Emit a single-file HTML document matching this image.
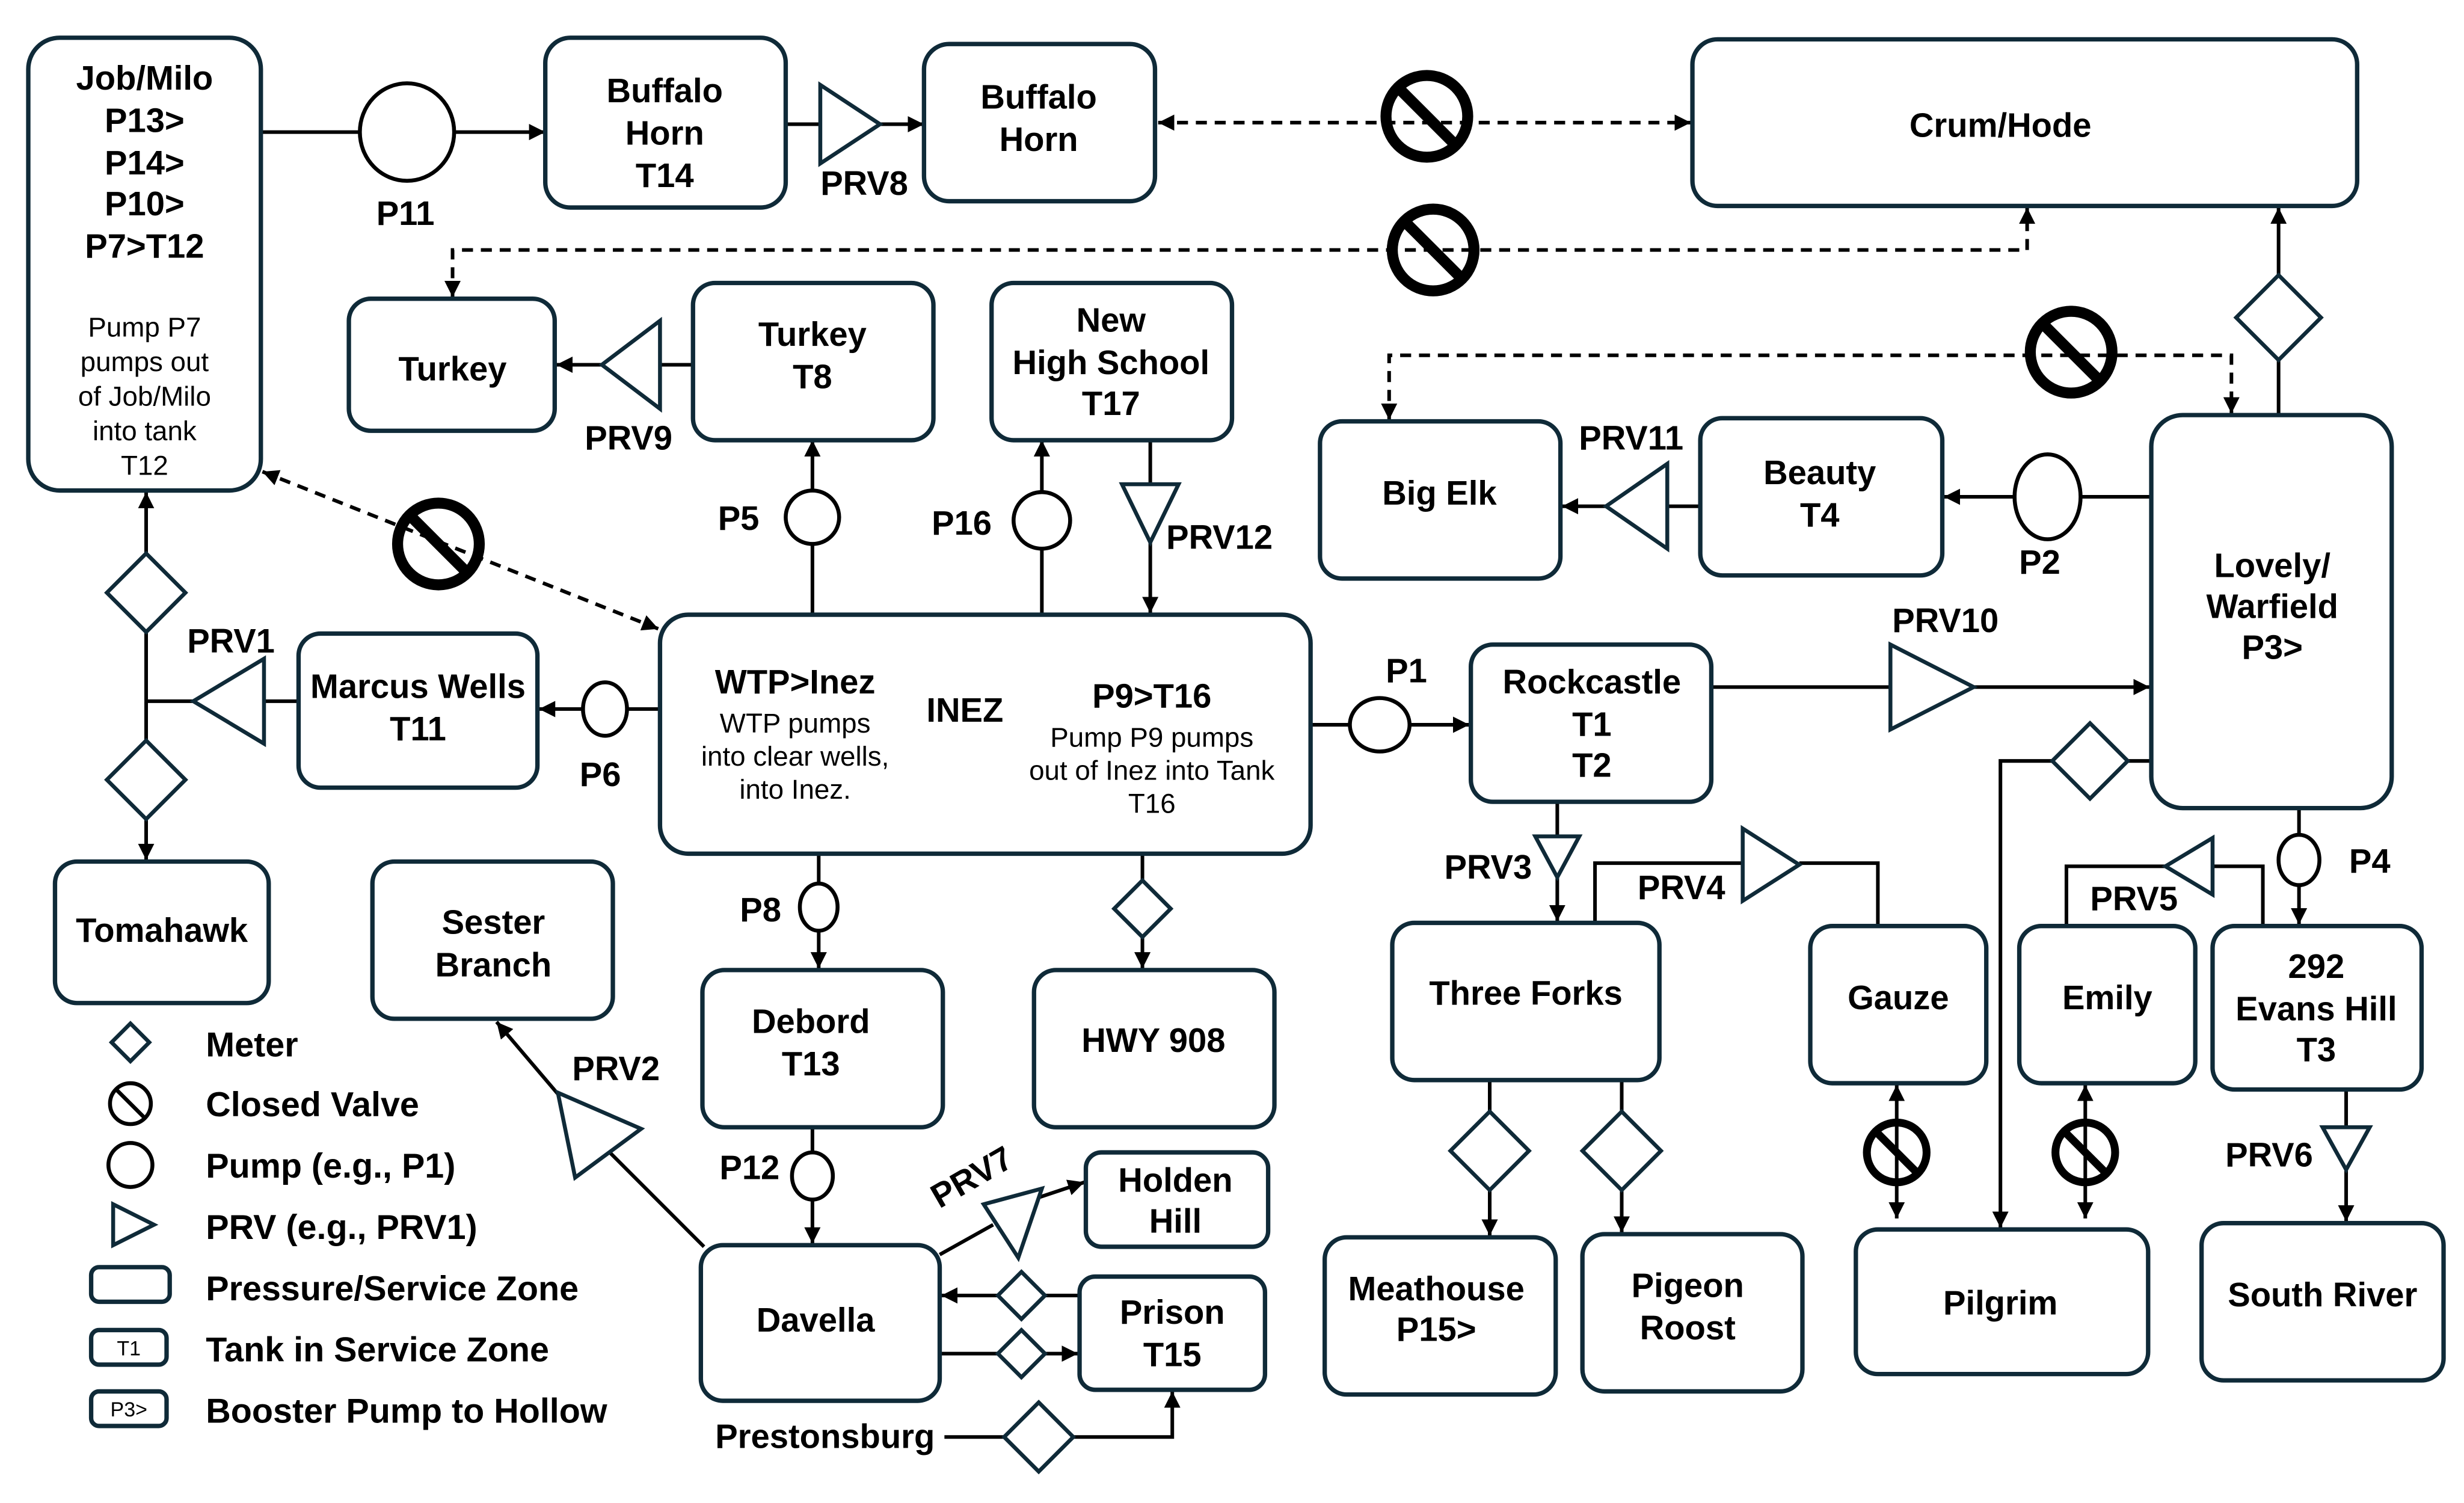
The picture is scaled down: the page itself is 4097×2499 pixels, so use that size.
<!DOCTYPE html>
<html><head><meta charset="utf-8"><style>
html,body{margin:0;padding:0;background:#fff;}
svg{display:block;}
text{font-family:"Liberation Sans",Arial,sans-serif;fill:#000;}
.b{font-weight:bold;font-size:21.5px;text-anchor:middle;}
.s{font-size:17.5px;text-anchor:middle;}
.l{font-weight:bold;font-size:22px;}
.box{fill:#fff;stroke:#0f2a38;stroke-width:2.8;}
.ln{stroke:#000;stroke-width:2.3;fill:none;}
.dl{stroke:#000;stroke-width:2.3;fill:none;stroke-dasharray:7,5;}
.tri{fill:#fff;stroke:#0f2a38;stroke-width:2.5;}
.dia{fill:#fff;stroke:#0f2a38;stroke-width:2.5;}
.pm{fill:#fff;stroke:#000;stroke-width:2.5;}
.cv{fill:none;stroke:#000;stroke-width:7;}
.cvs{fill:none;stroke:#000;stroke-width:5;}
</style></head><body>
<svg width="4097" height="2499" viewBox="0 0 1568 956" preserveAspectRatio="none" xmlns="http://www.w3.org/2000/svg">
<defs>
<marker id="a" viewBox="0 0 10 10" refX="10" refY="5" markerWidth="4.5" markerHeight="4.5" orient="auto-start-reverse" markerUnits="strokeWidth"><path d="M0,0L10,5L0,10z" fill="#000"/></marker>
</defs>
<rect width="1568" height="956" fill="#fff"/>

<g>
<line class="ln" x1="166" y1="84" x2="229" y2="84"/>
<line class="ln" x1="289" y1="84" x2="347" y2="84" marker-end="url(#a)"/>
<line class="ln" x1="500" y1="79" x2="522" y2="79"/>
<line class="ln" x1="560" y1="79" x2="588" y2="79" marker-end="url(#a)"/>
<line class="dl" x1="737" y1="78" x2="1076" y2="78" marker-start="url(#a)" marker-end="url(#a)"/>
<polyline class="dl" points="288,189 288,159 1290,159 1290,132" marker-start="url(#a)" marker-end="url(#a)"/>
<line class="ln" x1="441" y1="232" x2="420" y2="232"/>
<line class="ln" x1="383" y1="232" x2="354" y2="232" marker-end="url(#a)"/>
<line class="ln" x1="517" y1="391" x2="517" y2="346"/>
<line class="ln" x1="517" y1="312" x2="517" y2="280" marker-end="url(#a)"/>
<line class="ln" x1="663" y1="391" x2="663" y2="349"/>
<line class="ln" x1="663" y1="313" x2="663" y2="280" marker-end="url(#a)"/>
<line class="ln" x1="732" y1="280" x2="732" y2="308"/>
<line class="ln" x1="732" y1="345" x2="732" y2="390" marker-end="url(#a)"/>
<polyline class="dl" points="884,267 884,226 1420,226 1420,263" marker-start="url(#a)" marker-end="url(#a)"/>
<line class="ln" x1="1369" y1="316" x2="1324" y2="316"/>
<line class="ln" x1="1282" y1="316" x2="1237" y2="316" marker-end="url(#a)"/>
<line class="ln" x1="1082" y1="322" x2="1061" y2="322"/>
<line class="ln" x1="1022" y1="322" x2="994" y2="322" marker-end="url(#a)"/>
<line class="ln" x1="1450" y1="264" x2="1450" y2="229"/>
<line class="ln" x1="1450" y1="175" x2="1450" y2="132" marker-end="url(#a)"/>
<line class="ln" x1="834" y1="461" x2="859" y2="461"/>
<line class="ln" x1="897" y1="461" x2="935" y2="461" marker-end="url(#a)"/>
<line class="ln" x1="1089" y1="437" x2="1203" y2="437"/>
<line class="ln" x1="1256" y1="437" x2="1368" y2="437" marker-end="url(#a)"/>
<line class="dl" x1="167" y1="300" x2="419" y2="400" marker-start="url(#a)" marker-end="url(#a)"/>
<line class="ln" x1="420" y1="451" x2="399" y2="451"/>
<line class="ln" x1="371" y1="451" x2="343" y2="451" marker-end="url(#a)"/>
<line class="ln" x1="190" y1="446" x2="168" y2="446"/>
<line class="ln" x1="123" y1="446" x2="93" y2="446"/>
<line class="ln" x1="93" y1="446" x2="93" y2="402"/>
<line class="ln" x1="93" y1="352" x2="93" y2="313" marker-end="url(#a)"/>
<line class="ln" x1="93" y1="446" x2="93" y2="471"/>
<line class="ln" x1="93" y1="521" x2="93" y2="547" marker-end="url(#a)"/>
<line class="ln" x1="521" y1="543" x2="521" y2="562"/>
<line class="ln" x1="521" y1="592" x2="521" y2="616" marker-end="url(#a)"/>
<line class="ln" x1="727" y1="543" x2="727" y2="560"/>
<line class="ln" x1="727" y1="596" x2="727" y2="616" marker-end="url(#a)"/>
<line class="ln" x1="517" y1="717" x2="517" y2="733"/>
<line class="ln" x1="517" y1="763" x2="517" y2="791" marker-end="url(#a)"/>
<line class="ln" x1="448" y1="793" x2="388" y2="733"/>
<line class="ln" x1="356" y1="697" x2="316" y2="650" marker-end="url(#a)"/>
<line class="ln" x1="598" y1="798" x2="632" y2="779"/>
<line class="ln" x1="660" y1="762" x2="690" y2="752" marker-end="url(#a)"/>
<line class="ln" x1="687" y1="824" x2="665" y2="824"/>
<line class="ln" x1="635" y1="824" x2="599" y2="824" marker-end="url(#a)"/>
<line class="ln" x1="598" y1="861" x2="635" y2="861"/>
<line class="ln" x1="665" y1="861" x2="686" y2="861" marker-end="url(#a)"/>
<line class="ln" x1="601" y1="914" x2="639" y2="914"/>
<polyline class="ln" points="683,914 746,914 746,885" marker-end="url(#a)"/>
<line class="ln" x1="991" y1="510" x2="991" y2="532"/>
<line class="ln" x1="991" y1="558" x2="991" y2="586" marker-end="url(#a)"/>
<polyline class="ln" points="1015,587 1015,549 1109,549"/>
<polyline class="ln" points="1145,549 1195,549 1195,589"/>
<line class="ln" x1="948" y1="687" x2="948" y2="707"/>
<line class="ln" x1="948" y1="757" x2="948" y2="786" marker-end="url(#a)"/>
<line class="ln" x1="1032" y1="687" x2="1032" y2="707"/>
<line class="ln" x1="1032" y1="757" x2="1032" y2="784" marker-end="url(#a)"/>
<line class="ln" x1="1207" y1="690" x2="1207" y2="775" marker-start="url(#a)" marker-end="url(#a)"/>
<line class="ln" x1="1327" y1="690" x2="1327" y2="775" marker-start="url(#a)" marker-end="url(#a)"/>
<line class="ln" x1="1369" y1="484" x2="1354" y2="484"/>
<polyline class="ln" points="1306,484 1273,484 1273,781" marker-end="url(#a)"/>
<line class="ln" x1="1463" y1="514" x2="1463" y2="531"/>
<line class="ln" x1="1463" y1="563" x2="1463" y2="588" marker-end="url(#a)"/>
<polyline class="ln" points="1440,589 1440,551 1408,551"/>
<polyline class="ln" points="1378,551 1315,551 1315,589"/>
<line class="ln" x1="1493" y1="693" x2="1493" y2="717"/>
<line class="ln" x1="1493" y1="744" x2="1493" y2="777" marker-end="url(#a)"/>
</g>

<rect class="box" x="18" y="24" width="148" height="288" rx="20"/>
<rect class="box" x="347" y="24" width="153" height="108" rx="16"/>
<rect class="box" x="588" y="28" width="147" height="100" rx="16"/>
<rect class="box" x="1077" y="25" width="423" height="106" rx="16"/>
<rect class="box" x="222" y="190" width="131" height="84" rx="14"/>
<rect class="box" x="441" y="180" width="153" height="100" rx="14"/>
<rect class="box" x="631" y="180" width="153" height="100" rx="14"/>
<rect class="box" x="840" y="268" width="153" height="100" rx="14"/>
<rect class="box" x="1082" y="266" width="154" height="100" rx="14"/>
<rect class="box" x="1369" y="264" width="153" height="250" rx="20"/>
<rect class="box" x="190" y="403" width="152" height="98" rx="14"/>
<rect class="box" x="420" y="391" width="414" height="152" rx="18"/>
<rect class="box" x="936" y="410" width="153" height="100" rx="14"/>
<rect class="box" x="35" y="548" width="136" height="90" rx="14"/>
<rect class="box" x="237" y="548" width="153" height="100" rx="14"/>
<rect class="box" x="447" y="617" width="153" height="100" rx="14"/>
<rect class="box" x="658" y="617" width="153" height="100" rx="14"/>
<rect class="box" x="886" y="587" width="170" height="100" rx="14"/>
<rect class="box" x="1152" y="589" width="112" height="100" rx="14"/>
<rect class="box" x="1285" y="589" width="112" height="100" rx="14"/>
<rect class="box" x="1408" y="589" width="133" height="104" rx="14"/>
<rect class="box" x="691" y="733" width="116" height="60" rx="10"/>
<rect class="box" x="687" y="812" width="118" height="72" rx="10"/>
<rect class="box" x="446" y="792" width="152" height="99" rx="14"/>
<rect class="box" x="843" y="787" width="147" height="100" rx="14"/>
<rect class="box" x="1007" y="785" width="140" height="100" rx="14"/>
<rect class="box" x="1181" y="782" width="186" height="92" rx="14"/>
<rect class="box" x="1401" y="778" width="154" height="100" rx="14"/>

<text class="b" x="92" y="57">Job/Milo</text>
<text class="b" x="92" y="84">P13&gt;</text>
<text class="b" x="92" y="111">P14&gt;</text>
<text class="b" x="92" y="137">P10&gt;</text>
<text class="b" x="92" y="164">P7&gt;T12</text>
<text class="s" x="92" y="214">Pump P7</text>
<text class="s" x="92" y="236">pumps out</text>
<text class="s" x="92" y="258">of Job/Milo</text>
<text class="s" x="92" y="280">into tank</text>
<text class="s" x="92" y="302">T12</text>
<text class="b" x="423" y="65">Buffalo</text><text class="b" x="423" y="92">Horn</text><text class="b" x="423" y="119">T14</text>
<text class="b" x="661" y="69">Buffalo</text><text class="b" x="661" y="96">Horn</text>
<text class="b" x="1273" y="87">Crum/Hode</text>
<text class="b" x="288" y="242">Turkey</text>
<text class="b" x="517" y="220">Turkey</text><text class="b" x="517" y="247">T8</text>
<text class="b" x="707" y="211">New</text><text class="b" x="707" y="238">High School</text><text class="b" x="707" y="264">T17</text>
<text class="b" x="916" y="321">Big Elk</text>
<text class="b" x="1158" y="308">Beauty</text><text class="b" x="1158" y="335">T4</text>
<text class="b" x="1446" y="367">Lovely/</text><text class="b" x="1446" y="393">Warfield</text><text class="b" x="1446" y="419">P3&gt;</text>
<text class="b" x="266" y="444">Marcus Wells</text><text class="b" x="266" y="471">T11</text>
<text class="b" x="506" y="441">WTP&gt;Inez</text>
<text class="s" x="506" y="466">WTP pumps</text><text class="s" x="506" y="487">into clear wells,</text><text class="s" x="506" y="508">into Inez.</text>
<text class="b" x="614" y="459">INEZ</text>
<text class="b" x="733" y="450">P9&gt;T16</text>
<text class="s" x="733" y="475">Pump P9 pumps</text><text class="s" x="733" y="496">out of Inez into Tank</text><text class="s" x="733" y="517">T16</text>
<text class="b" x="1013" y="441">Rockcastle</text><text class="b" x="1013" y="468">T1</text><text class="b" x="1013" y="494">T2</text>
<text class="b" x="103" y="599">Tomahawk</text>
<text class="b" x="314" y="594">Sester</text><text class="b" x="314" y="621">Branch</text>
<text class="b" x="516" y="657">Debord</text><text class="b" x="516" y="684">T13</text>
<text class="b" x="734" y="669">HWY 908</text>
<text class="b" x="971" y="639">Three Forks</text>
<text class="b" x="1208" y="642">Gauze</text>
<text class="b" x="1341" y="642">Emily</text>
<text class="b" x="1474" y="622">292</text><text class="b" x="1474" y="649">Evans Hill</text><text class="b" x="1474" y="675">T3</text>
<text class="b" x="748" y="758">Holden</text><text class="b" x="748" y="784">Hill</text>
<text class="b" x="746" y="842">Prison</text><text class="b" x="746" y="869">T15</text>
<text class="b" x="519" y="847">Davella</text>
<text class="b" x="914" y="827">Meathouse</text><text class="b" x="914" y="853">P15&gt;</text>
<text class="b" x="1074" y="825">Pigeon</text><text class="b" x="1074" y="852">Roost</text>
<text class="b" x="1273" y="836">Pilgrim</text>
<text class="b" x="1478" y="831">South River</text>
<text class="b" x="525" y="921">Prestonsburg</text>

<ellipse class="pm" cx="259" cy="84" rx="30" ry="31"/>
<ellipse class="pm" cx="517" cy="329" rx="17" ry="17"/>
<ellipse class="pm" cx="663" cy="331" rx="18" ry="18"/>
<ellipse class="pm" cx="1303" cy="316" rx="21" ry="27"/>
<ellipse class="pm" cx="878" cy="461" rx="19" ry="17"/>
<ellipse class="pm" cx="385" cy="451" rx="14" ry="17"/>
<ellipse class="pm" cx="521" cy="577" rx="12" ry="15"/>
<ellipse class="pm" cx="517" cy="748" rx="13" ry="15"/>
<ellipse class="pm" cx="1463" cy="547" rx="13" ry="16"/>
<text class="b" x="258" y="143">P11</text>
<text class="b" x="470" y="337">P5</text>
<text class="b" x="612" y="340">P16</text>
<text class="b" x="1298" y="365">P2</text>
<text class="b" x="895" y="434">P1</text>
<text class="b" x="382" y="500">P6</text>
<text class="b" x="484" y="586">P8</text>
<text class="b" x="477" y="750">P12</text>
<text class="b" x="1508" y="555">P4</text>

<polygon class="tri" points="522,54 522,104 560,79"/>
<polygon class="tri" points="420,204 420,260 383,232"/>
<polygon class="tri" points="714,308 750,308 732,345"/>
<polygon class="tri" points="1061,295 1061,349 1022,322"/>
<polygon class="tri" points="1203,410 1203,464 1256,437"/>
<polygon class="tri" points="168,419 168,473 123,446"/>
<polygon class="tri" points="977,532 1005,532 991,558"/>
<polygon class="tri" points="1109,527 1109,573 1145,550"/>
<polygon class="tri" points="1408,533 1408,569 1378,551"/>
<polygon class="tri" points="1478,717 1508,717 1493,744"/>
<polygon class="tri" points="355,695 408,718 366,749"/>
<polygon class="tri" points="626,766 663,756 648,800"/>
<text class="b" x="550" y="124">PRV8</text>
<text class="b" x="400" y="286">PRV9</text>
<text class="b" x="776" y="349">PRV12</text>
<text class="b" x="1038" y="286">PRV11</text>
<text class="b" x="1238" y="402">PRV10</text>
<text class="b" x="147" y="415">PRV1</text>
<text class="b" x="947" y="559">PRV3</text>
<text class="b" x="1070" y="572">PRV4</text>
<text class="b" x="1358" y="579">PRV5</text>
<text class="b" x="1444" y="742">PRV6</text>
<text class="b" x="392" y="687">PRV2</text>
<text class="b" transform="translate(622,755) rotate(-30)">PRV7</text>

<polygon class="dia" points="1450,175 1477,202 1450,229 1423,202"/>
<polygon class="dia" points="93,352 118,377 93,402 68,377"/>
<polygon class="dia" points="93,471 118,496 93,521 68,496"/>
<polygon class="dia" points="1330,460 1354,484 1330,508 1306,484"/>
<polygon class="dia" points="727,560 745,578 727,596 709,578"/>
<polygon class="dia" points="948,707 973,732 948,757 923,732"/>
<polygon class="dia" points="1032,707 1057,732 1032,757 1007,732"/>
<polygon class="dia" points="650,809 665,824 650,839 635,824"/>
<polygon class="dia" points="650,846 665,861 650,876 635,861"/>
<polygon class="dia" points="661,892 683,914 661,936 639,914"/>

<circle class="cv" cx="908" cy="74" r="26"/><line class="cv" x1="890" y1="56" x2="926" y2="92"/>
<circle class="cv" cx="912" cy="159" r="26"/><line class="cv" x1="894" y1="141" x2="930" y2="177"/>
<circle class="cv" cx="1318" cy="224" r="26"/><line class="cv" x1="1300" y1="206" x2="1336" y2="242"/>
<circle class="cv" cx="279" cy="346" r="26"/><line class="cv" x1="261" y1="328" x2="297" y2="364"/>
<circle class="cvs" cx="1207" cy="733" r="19"/><line class="cvs" x1="1194" y1="720" x2="1220" y2="746"/>
<circle class="cvs" cx="1327" cy="733" r="19"/><line class="cvs" x1="1314" y1="720" x2="1340" y2="746"/>

<polygon class="dia" points="83,651 95,663 83,675 71,663"/>
<circle cx="83" cy="702" r="13" fill="none" stroke="#000" stroke-width="2.5"/><line x1="74" y1="693" x2="92" y2="711" stroke="#000" stroke-width="2.5"/>
<circle class="pm" cx="83" cy="741" r="14"/>
<polygon class="tri" points="72,766 72,792 98,779"/>
<rect class="box" x="58" y="806" width="50" height="22" rx="5"/>
<rect class="box" x="58" y="846" width="48" height="22" rx="5"/>
<text x="82" y="862" style="font-size:13px;text-anchor:middle">T1</text>
<rect class="box" x="58" y="885" width="48" height="22" rx="5"/>
<text x="82" y="901" style="font-size:13px;text-anchor:middle">P3&gt;</text>
<text class="l" x="131" y="672">Meter</text>
<text class="l" x="131" y="710">Closed Valve</text>
<text class="l" x="131" y="749">Pump (e.g., P1)</text>
<text class="l" x="131" y="788">PRV (e.g., PRV1)</text>
<text class="l" x="131" y="827">Pressure/Service Zone</text>
<text class="l" x="131" y="866">Tank in Service Zone</text>
<text class="l" x="131" y="905">Booster Pump to Hollow</text>
</svg>
</body></html>
